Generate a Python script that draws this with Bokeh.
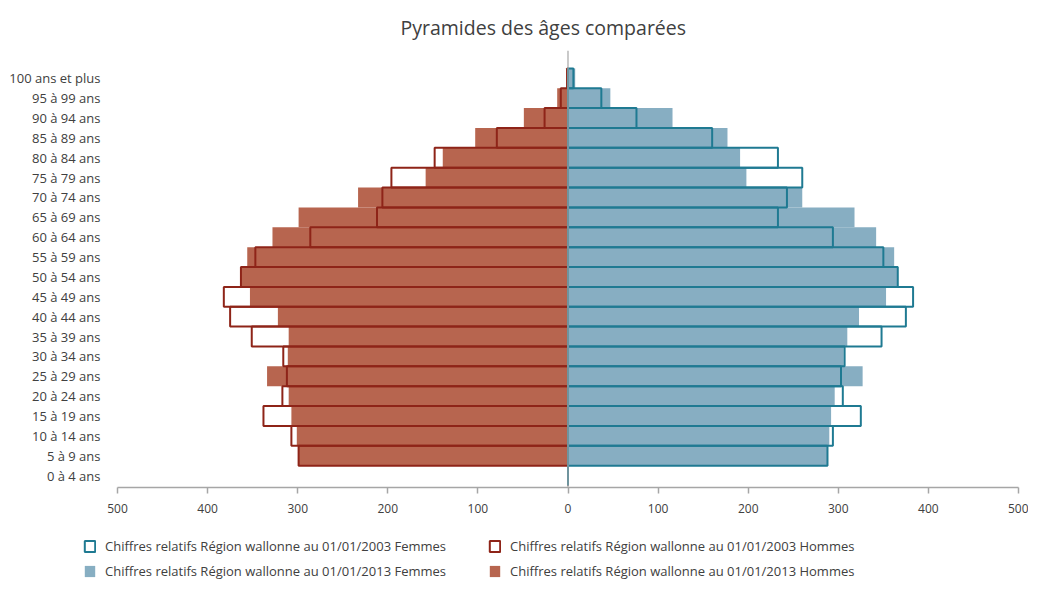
from bokeh.plotting import figure
from bokeh.models import (Range1d, FixedTicker, Legend, LegendItem, Span, Title,
                          ColumnDataSource)
from bokeh.embed import file_html
from bokeh.resources import INLINE

# ---- data -------------------------------------------------------------
age_groups = ["0 à 4 ans", "5 à 9 ans", "10 à 14 ans", "15 à 19 ans", "20 à 24 ans",
              "25 à 29 ans", "30 à 34 ans", "35 à 39 ans", "40 à 44 ans", "45 à 49 ans",
              "50 à 54 ans", "55 à 59 ans", "60 à 64 ans", "65 à 69 ans", "70 à 74 ans",
              "75 à 79 ans", "80 à 84 ans", "85 à 89 ans", "90 à 94 ans", "95 à 99 ans",
              "100 ans et plus"]

hommes_2013 = [0, 299, 301, 307, 310, 334, 311, 310, 322, 353,
               364, 356, 328, 299, 233, 158, 139, 103, 49, 12, 2]
hommes_2003 = [0, 299, 307, 338, 317, 312, 316, 351, 375, 382,
               363, 347, 286, 212, 206, 196, 148, 79, 26, 8, 1]
femmes_2013 = [0, 288, 290, 292, 296, 327, 306, 310, 323, 353,
               366, 362, 342, 318, 260, 198, 191, 177, 116, 47, 8]
femmes_2003 = [0, 288, 294, 325, 305, 303, 307, 348, 375, 383,
               366, 350, 294, 233, 243, 260, 233, 160, 76, 37, 6]

x_ticks = [-500, -400, -300, -200, -100, 0, 100, 200, 300, 400, 500]
x_tick_labels = ["500", "400", "300", "200", "100", "0", "100", "200", "300", "400", "500"]

legend_labels = ["Chiffres relatifs Région wallonne au 01/01/2003 Femmes",
                 "Chiffres relatifs Région wallonne au 01/01/2003 Hommes",
                 "Chiffres relatifs Région wallonne au 01/01/2013 Femmes",
                 "Chiffres relatifs Région wallonne au 01/01/2013 Hommes"]

# ---- styles -----------------------------------------------------------
BROWN_FILL = "#B7654F"
RED_LINE = "#8E2418"
BLUE_FILL = "#87AEC2"
TEAL_LINE = "#1F7A92"
TEXT = "#404040"
FONT = "Open Sans"

idx = list(range(len(age_groups)))
src = ColumnDataSource(dict(
    y=idx,
    h13=[-v for v in hommes_2013],
    h03=[-v for v in hommes_2003],
    f13=femmes_2013,
    f03=femmes_2003,
))


def add_bars(fig, visible=True):
    r_h13 = fig.hbar(y="y", left="h13", right=0, height=1.0, source=src,
                     fill_color=BROWN_FILL, line_color=None, visible=visible)
    r_f13 = fig.hbar(y="y", left=0, right="f13", height=1.0, source=src,
                     fill_color=BLUE_FILL, line_color=None, visible=visible)
    r_h03 = fig.hbar(y="y", left="h03", right=0, height=1.0, source=src,
                     fill_color=None, line_color=RED_LINE, line_width=2, visible=visible)
    r_f03 = fig.hbar(y="y", left=0, right="f03", height=1.0, source=src,
                     fill_color=None, line_color=TEAL_LINE, line_width=2, visible=visible)
    return r_h13, r_f13, r_h03, r_f03


# ---- main chart -------------------------------------------------------
p = figure(width=1028, height=524, output_backend="svg", toolbar_location=None,
           x_range=Range1d(-500, 500), y_range=Range1d(-0.6, 21.4),
           min_border_left=117, min_border_right=10, min_border_top=50,
           min_border_bottom=37, outline_line_color=None)

p.title = Title(text="Pyramides des âges comparées", align="left", offset=283,
                text_font=FONT, text_font_size="19.5px", text_font_style="normal",
                text_color=TEXT, standoff=19)

p.xgrid.visible = False
p.ygrid.visible = False

add_bars(p)

p.add_layout(Span(location=0, dimension="height", line_color="#A6A6A6", line_width=1.2))

xa = p.xaxis[0]
xa.ticker = FixedTicker(ticks=x_ticks)
xa.major_label_overrides = {t: l for t, l in zip(x_ticks, x_tick_labels)}
xa.axis_line_color = "#A6A6A6"
xa.axis_line_width = 1.5
xa.major_tick_line_color = "#A6A6A6"
xa.major_tick_line_width = 1.5
xa.major_tick_in = 0
xa.major_tick_out = 6
xa.minor_tick_line_color = None
xa.major_label_standoff = 10
xa.major_label_text_font = FONT
xa.major_label_text_font_size = "12px"
xa.major_label_text_color = TEXT

ya = p.yaxis[0]
ya.ticker = FixedTicker(ticks=idx)
ya.major_label_overrides = {i: g for i, g in zip(idx, age_groups)}
ya.axis_line_color = None
ya.major_tick_line_color = None
ya.major_tick_in = 0
ya.major_tick_out = 0
ya.minor_tick_line_color = None
ya.major_label_standoff = 17
ya.major_label_text_font = FONT
ya.major_label_text_font_size = "13px"
ya.major_label_text_color = TEXT

# ---- legend strip -----------------------------------------------------
lg = figure(width=1028, height=57, output_backend="svg", toolbar_location=None,
            x_range=Range1d(0, 1), y_range=Range1d(0, 1),
            x_axis_type=None, y_axis_type=None, outline_line_color=None,
            min_border_left=0, min_border_right=0, min_border_top=0, min_border_bottom=0)
lg.xgrid.visible = False
lg.ygrid.visible = False
l_h13, l_f13, l_h03, l_f03 = add_bars(lg, visible=False)


def make_legend(items, loc):
    return Legend(items=items, orientation="horizontal", location=loc,
                  glyph_width=13, glyph_height=14, label_standoff=9,
                  label_width=373, spacing=10, padding=0, margin=0,
                  border_line_color=None, background_fill_alpha=0,
                  label_text_font=FONT, label_text_font_size="13px",
                  label_text_color=TEXT, click_policy="none")


leg1 = make_legend([LegendItem(label=legend_labels[0], renderers=[l_f03]),
                    LegendItem(label=legend_labels[1], renderers=[l_h03])], (83, 26))
leg2 = make_legend([LegendItem(label=legend_labels[2], renderers=[l_f13]),
                    LegendItem(label=legend_labels[3], renderers=[l_h13])], (83, 1))
lg.add_layout(leg1)
lg.add_layout(leg2)

open("out.html", "w").write(file_html([p, lg], INLINE))
